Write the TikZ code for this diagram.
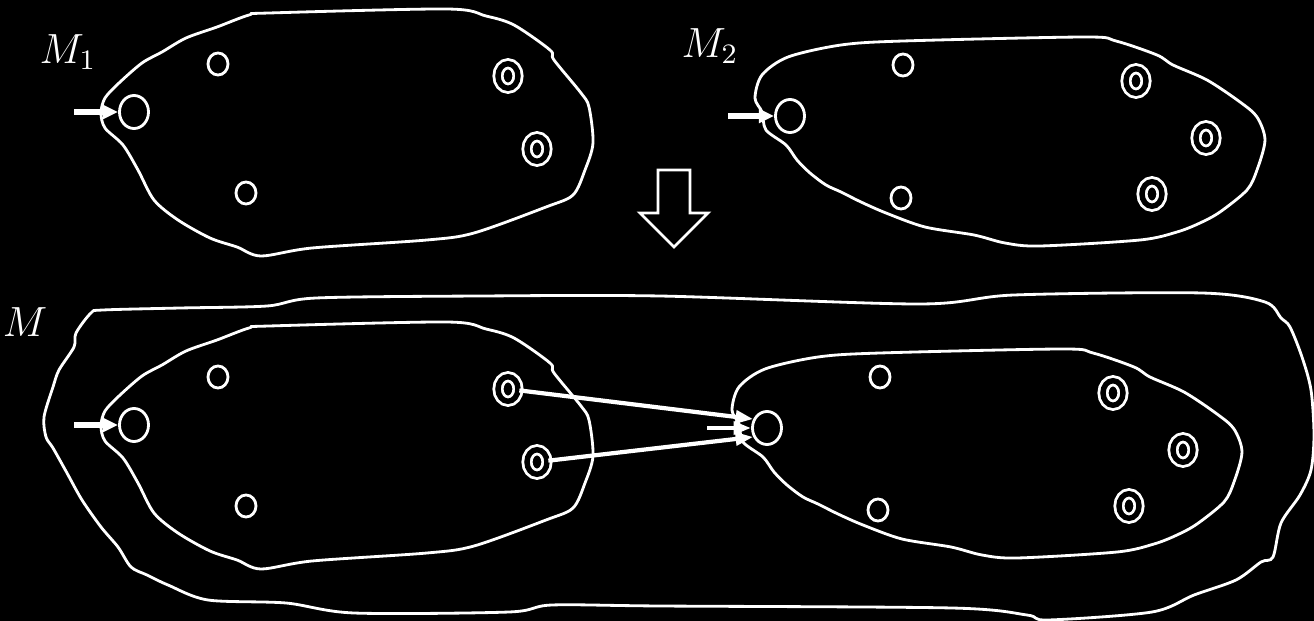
\documentclass[tikz,border=0pt]{standalone}
\usepackage{tikz}
\usetikzlibrary{shapes.geometric,arrows.meta}

\begin{document}
\begin{tikzpicture}[x=0.01cm, y=-0.01cm, white, line width=0.8pt,
    blob/.style={draw=white, line width=0.8pt},
    initst/.style={draw=white, ellipse, inner sep=0pt, minimum width=0.29cm, minimum height=0.33cm},
    plainst/.style={draw=white, ellipse, inner sep=0pt, minimum width=0.2cm, minimum height=0.22cm},
    finst/.style={draw=white, ellipse, inner sep=0pt, minimum width=0.2cm, minimum height=0.245cm, double=black, double distance=1.55pt},
    inarr/.style={-{Triangle[length=4.3pt,width=3.8pt]}, line width=1.6pt},
    trans/.style={-{Triangle[length=5pt,width=3.6pt]}, line width=1.2pt}]
    \fill[black, use as bounding box] (0,0) rectangle (1314,621);

    % M1
    \draw[blob] plot[smooth cycle, tension=0.5] coordinates {(101,113) (105,98) (119,83) (142,63) (162,52) (186,38) (217,27) (249,15) (269,13) (447,9) (486,16) (514,25) (550,50) (554,60) (581,93) (589,107) (593,143) (585,170) (573,195) (546,207) (474,233) (427,240) (312,248) (261,256) (237,247) (210,238) (178,220) (154,200) (138,170) (123,145) (105,128)};
    \node[initst] (m1q0) at (134,112) {};
    \node[plainst] (m1p1) at (218,64) {};
    \node[plainst] (m1p2) at (246,193) {};
    \node[finst] (m1f1) at (508,76) {};
    \node[finst] (m1f2) at (537,149) {};
    \coordinate (m1in) at (74,112);
    \draw[inarr] (m1in) -- (m1q0);
    \node[font=\large] (m1lab) at (68,52) {$M_1$};

    % M2
    \draw[blob] plot[smooth cycle, tension=0.5] coordinates {(755,98) (762,75) (788,57) (841,45) (903,41) (1085,37) (1116,41) (1157,55) (1173,65) (1207,80) (1240,102) (1257,117) (1265,140) (1257,170) (1247,190) (1220,212) (1200,223) (1177,232) (1140,240) (1040,246) (1005,243) (974,235) (925,227) (886,213) (861,202) (841,192) (826,185) (810,173) (797,160) (786,145) (766,130) (762,112)};
    \node[initst] (m2q0) at (790,116) {};
    \node[plainst] (m2p1) at (903,65) {};
    \node[plainst] (m2p2) at (901,198) {};
    \node[finst] (m2f1) at (1136,81) {};
    \node[finst] (m2f2) at (1206,138) {};
    \node[finst] (m2f3) at (1152,194) {};
    \coordinate (m2in) at (728,116);
    \draw[inarr] (m2in) -- (m2q0);
    \node[font=\large] (m2lab) at (710,46) {$M_2$};

    % block arrow
    \draw (658,170) -- (690,170) -- (690,213) -- (708,213) -- (674,247) -- (640,213) -- (658,213) -- cycle;

    % M
    \draw[blob] plot[smooth cycle, tension=0.5] coordinates {(103,310) (180,308) (267,306) (316,298) (480,296) (660,296) (919,304) (1014,295) (1202,293) (1265,302) (1281,318) (1290,327) (1302,357) (1311,390) (1314,435) (1311,470) (1300,495) (1281,523) (1273,557) (1261,562) (1236,580) (1194,595) (1152,612) (1048,620) (1027,615) (952,608) (660,606) (552,605) (509,612) (354,613) (286,603) (208,600) (168,585) (147,575) (131,567) (118,547) (101,527) (82,500) (67,473) (53,448) (46,437) (44,417) (53,387) (59,370) (74,347) (76,333) (91,313)};
    \node[font=\large] (mlab) at (25,322) {$M$};

    \begin{scope}[shift={(0,313)}]
        \draw[blob] plot[smooth cycle, tension=0.5] coordinates {(101,113) (105,98) (119,83) (142,63) (162,52) (186,38) (217,27) (249,15) (269,13) (447,9) (486,16) (514,25) (550,50) (554,60) (581,93) (589,107) (593,143) (585,170) (573,195) (546,207) (474,233) (427,240) (312,248) (261,256) (237,247) (210,238) (178,220) (154,200) (138,170) (123,145) (105,128)};
        \node[initst] (n1q0) at (134,112) {};
        \node[plainst] (n1p1) at (218,64) {};
        \node[plainst] (n1p2) at (246,193) {};
        \node[finst] (n1f1) at (508,76) {};
        \node[finst] (n1f2) at (537,149) {};
        \coordinate (n1in) at (74,112);
    \end{scope}
    \draw[inarr] (n1in) -- (n1q0);

    \begin{scope}[shift={(-23,312)}]
        \draw[blob] plot[smooth cycle, tension=0.5] coordinates {(755,98) (762,75) (788,57) (841,45) (903,41) (1085,37) (1116,41) (1157,55) (1173,65) (1207,80) (1240,102) (1257,117) (1265,140) (1257,170) (1247,190) (1220,212) (1200,223) (1177,232) (1140,240) (1040,246) (1005,243) (974,235) (925,227) (886,213) (861,202) (841,192) (826,185) (810,173) (797,160) (786,145) (766,130) (762,112)};
        \node[initst] (n2q0) at (790,116) {};
        \node[plainst] (n2p1) at (903,65) {};
        \node[plainst] (n2p2) at (901,198) {};
        \node[finst] (n2f1) at (1136,81) {};
        \node[finst] (n2f2) at (1206,138) {};
        \node[finst] (n2f3) at (1152,194) {};
        \coordinate (n2in) at (730,116);
    \end{scope}
    \draw[trans] (n2in) -- (n2q0);
    \draw[trans] (n1f1) -- (n2q0.147);
    \draw[trans] (n1f2) -- (n2q0.213);
\end{tikzpicture}
\end{document}
